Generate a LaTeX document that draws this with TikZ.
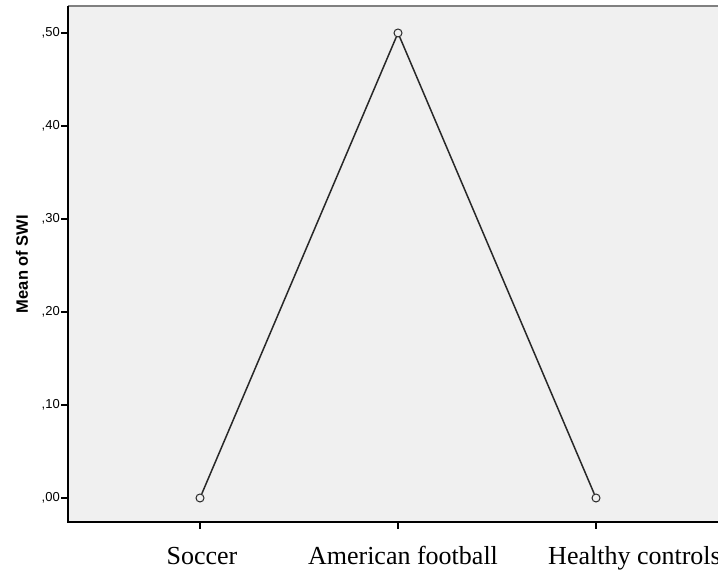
\documentclass[tikz,border=0pt]{standalone}
\usepackage{fontspec}
\setmainfont{Liberation Serif}
\setsansfont{Liberation Sans}
\definecolor{spssbg}{RGB}{240,240,240}
\definecolor{spssframe}{RGB}{128,128,128}
\definecolor{spssline}{RGB}{40,40,40}
\usetikzlibrary{positioning}

\begin{document}
\begin{tikzpicture}[x=1pt, y=1pt,
    ticklabel/.style={anchor=east, inner sep=0pt, font=\sffamily\fontsize{13}{15}\selectfont},
    catlabel/.style={anchor=base, inner sep=0pt, font=\rmfamily\fontsize{26}{30}\selectfont},
    meanpt/.style={circle, draw=spssline, line width=1pt, minimum size=8pt, inner sep=0pt},
    meanline/.style={draw=spssline, line width=1.5pt}]
  \useasboundingbox (0,0) rectangle (718,572);
  % plot area
  \fill[spssbg] (68,50) rectangle (720,566);
  \draw[spssframe, line width=2.5pt] (68,566) -- (720,566);
  \draw[black, line width=1.3pt] (68,566) -- (68,50) -- (720,50);
  % y axis ticks and labels
  \draw[line width=1.3pt] (61,74) -- (68,74);
  \draw[line width=1.3pt] (61,167) -- (68,167);
  \draw[line width=1.3pt] (61,260) -- (68,260);
  \draw[line width=1.3pt] (61,353) -- (68,353);
  \draw[line width=1.3pt] (61,446) -- (68,446);
  \draw[line width=1.3pt] (61,539) -- (68,539);
  \node[ticklabel] (t0) at (60,74) {,00};
  \node[ticklabel] (t1) at (60,167) {,10};
  \node[ticklabel] (t2) at (60,260) {,20};
  \node[ticklabel] (t3) at (60,353) {,30};
  \node[ticklabel] (t4) at (60,446) {,40};
  \node[ticklabel] (t5) at (60,539) {,50};
  \node[rotate=90, font=\sffamily\bfseries\fontsize{16.5}{19}\selectfont] (ylab) at (22,308) {Mean of SWI};
  % x axis ticks and labels
  \draw[line width=1.3pt] (200,50) -- (200,43);
  \draw[line width=1.3pt] (398,50) -- (398,43);
  \draw[line width=1.3pt] (596,50) -- (596,43);
  \node[catlabel] (soccer) at (202,7) {Soccer};
  \node[catlabel] (amfoot) at (403,7) {American football};
  \node[catlabel, anchor=base east] (healthy) at (721,7) {Healthy controls};
  % means
  \node[meanpt] (m1) at (200,74) {};
  \node[meanpt] (m2) at (398,539) {};
  \node[meanpt] (m3) at (596,74) {};
  \draw[meanline] (m1) -- (m2) -- (m3);
\end{tikzpicture}
\end{document}
